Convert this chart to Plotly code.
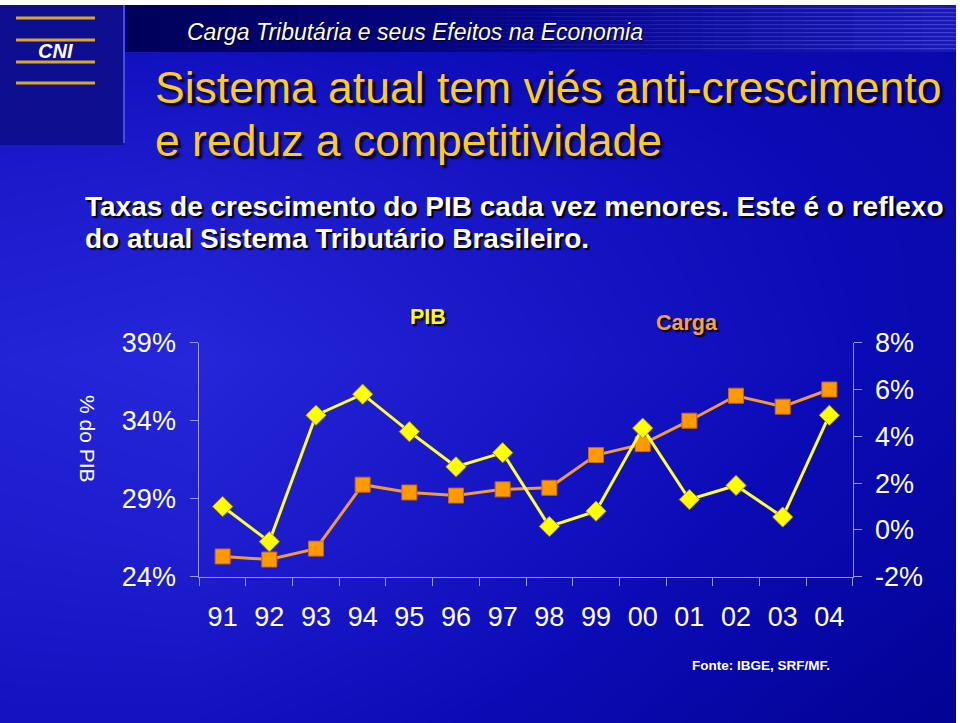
import plotly.graph_objects as go

# ---------------- data ----------------
years = ["91", "92", "93", "94", "95", "96", "97", "98", "99", "00", "01", "02", "03", "04"]
carga = [25.3, 25.1, 25.8, 29.9, 29.4, 29.2, 29.6, 29.7, 31.8, 32.5, 34.0, 35.6, 34.9, 36.0]
pib = [1.0, -0.5, 4.9, 5.8, 4.2, 2.7, 3.3, 0.15, 0.8, 4.35, 1.3, 1.9, 0.55, 4.9]
left_ticks = [24, 29, 34, 39]
right_ticks = [-2, 0, 2, 4, 6, 8]
series_names = ["Carga", "PIB"]

W, H = 960, 723


def px(x):
    return x / W


def py(y):
    return 1 - y / H


# ---------------- slide background (decoration) ----------------
bg_x = [0, 192, 384, 576, 768, 960]
bg_y = [0, 180, 360, 540, 723]
bg_z = [
    [0.50, 0.50, 0.46, 0.42, 0.38, 0.34],
    [0.78, 0.82, 0.74, 0.62, 0.50, 0.40],
    [0.95, 1.00, 0.86, 0.70, 0.55, 0.40],
    [0.82, 0.86, 0.74, 0.58, 0.42, 0.28],
    [0.62, 0.62, 0.52, 0.40, 0.24, 0.10],
]
bg_scale = [[0, "#00008a"], [0.5, "#0c0cb8"], [1, "#2626da"]]

fig = go.Figure()
fig.add_trace(go.Heatmap(x=bg_x, y=bg_y, z=bg_z, colorscale=bg_scale, zmin=0, zmax=1,
                         zsmooth="best", showscale=False, hoverinfo="skip",
                         xaxis="x", yaxis="y"))

# ---------------- chart traces ----------------
fig.add_trace(go.Scatter(
    x=years, y=carga, name=series_names[0], mode="lines+markers",
    line=dict(color="#f09a3c", width=3),
    marker=dict(symbol="square", size=15, color="#ff9900", line=dict(color="#c86a00", width=1)),
    xaxis="x2", yaxis="y2",
))
fig.add_trace(go.Scatter(
    x=years, y=pib, name=series_names[1], mode="lines+markers",
    line=dict(color="#ffff3a", width=3),
    marker=dict(symbol="diamond", size=15.5, color="#ffff00", line=dict(color="#b0a000", width=1)),
    xaxis="x2", yaxis="y3",
))

xdom = [px(199.3), px(852.7)]
ydom = [py(576.7), py(342.7)]
axis_col = "rgba(175,175,235,0.85)"
tick_font = dict(family="Liberation Sans, Arial, sans-serif", size=27, color="white")
n = len(years)
bounds = [i - 0.5 for i in range(n + 1)]
hidden = dict(visible=False, showgrid=False, zeroline=False, automargin=False)

fig.update_layout(
    width=W, height=H,
    margin=dict(l=0, r=0, t=0, b=0, autoexpand=False),
    paper_bgcolor="#1010c0", plot_bgcolor="rgba(0,0,0,0)",
    showlegend=False,
    xaxis=dict(domain=[0, 1], range=[0, W], anchor="y", **hidden),
    yaxis=dict(domain=[0, 1], range=[H, 0], anchor="x", **hidden),
    xaxis2=dict(domain=xdom, anchor="y2", type="category", categoryarray=years,
                range=[-0.5, n - 0.5], tickson="boundaries", ticks="outside", ticklen=8,
                tickcolor=axis_col, showline=True, linecolor=axis_col, linewidth=1,
                showgrid=False, zeroline=False, tickfont=tick_font, ticklabelstandoff=16,
                automargin=False),
    yaxis2=dict(domain=ydom, anchor="x2", range=[left_ticks[0], left_ticks[-1]],
                tickvals=left_ticks, ticktext=[f"{v}%" for v in left_ticks],
                ticks="outside", ticklen=8, tickcolor=axis_col, showline=True,
                linecolor=axis_col, linewidth=1, showgrid=False, zeroline=False,
                tickfont=tick_font, ticklabelstandoff=9, automargin=False),
    yaxis3=dict(domain=ydom, anchor="x2", overlaying="y2", side="right",
                range=[right_ticks[0], right_ticks[-1]],
                tickvals=right_ticks, ticktext=[f"{v}%" for v in right_ticks],
                ticks="outside", ticklen=8, tickcolor=axis_col, showline=True,
                linecolor=axis_col, linewidth=1, showgrid=False, zeroline=False,
                tickfont=tick_font, ticklabelstandoff=8, automargin=False),
    # overlay axes that only draw the inner half of the crossing tick marks
    xaxis3=dict(domain=xdom, anchor="y2", overlaying="x2", range=[-0.5, n - 0.5],
                tickvals=bounds, ticks="inside", ticklen=8, tickcolor=axis_col,
                showticklabels=False, showline=False, showgrid=False, zeroline=False,
                side="bottom", automargin=False),
    yaxis4=dict(domain=ydom, anchor="x2", overlaying="y2", range=[left_ticks[0], left_ticks[-1]],
                tickvals=left_ticks, ticks="inside", ticklen=8, tickcolor=axis_col,
                showticklabels=False, showline=False, showgrid=False, zeroline=False,
                side="left", automargin=False),
    yaxis5=dict(domain=ydom, anchor="x2", overlaying="y2", side="right",
                range=[right_ticks[0], right_ticks[-1]],
                tickvals=right_ticks, ticks="inside", ticklen=8, tickcolor=axis_col,
                showticklabels=False, showline=False, showgrid=False, zeroline=False,
                automargin=False),
)

# ---------------- decorative shapes (header, logo) ----------------
shapes = []


def rect(x0, y0, x1, y1, color, layer="above"):
    shapes.append(dict(type="rect", xref="paper", yref="paper", x0=px(x0), x1=px(x1),
                       y0=py(y1), y1=py(y0), fillcolor=color, line=dict(width=0), layer=layer))


def mix(c1, c2, t):
    return "#%02x%02x%02x" % tuple(int(round(a + (b - a) * t)) for a, b in zip(c1, c2))


# left panel
rect(0, 5, 124, 145, "#0e0e90")
# header band with horizontal gradient
seg = 24
x_start, x_end = 125, 956
for i in range(seg):
    t = i / (seg - 1)
    if t < 0.5:
        col = mix((0, 0, 0x5c), (6, 6, 0x8c), t / 0.5)
    else:
        col = mix((6, 6, 0x8c), (0x18, 0x18, 0xb4), (t - 0.5) / 0.5)
    xa = x_start + (x_end - x_start) * i / seg
    xb = x_start + (x_end - x_start) * (i + 1) / seg + 0.6
    rect(xa, 5, xb, 52, col)
# faint stripes on right part of header
for i in range(10):
    xa = 450 + 50.6 * i
    op = 0.05 + 0.045 * i
    for yy in range(8, 51, 4):
        rect(xa, yy, xa + 51, yy + 1.3, f"rgba(110,110,255,{op:.3f})")
# vertical separator line
rect(123, 5, 125, 143, "#4848f0")
# CNI gold bars
for yy in (18, 40, 62, 83):
    rect(16, yy - 1.5, 95, yy + 1.5, "#d9a82a")
# white frame strips
rect(0, 0, W, 5, "#ffffff")
rect(956, 0, W, H, "#ffffff")
fig.update_layout(shapes=shapes)

# ---------------- texts ----------------
sans = "Liberation Sans, Arial, sans-serif"
ann = []


def A(text, x, y, xanchor="left", yanchor="middle", angle=0, **font):
    ann.append(dict(text=text, x=px(x), y=py(y), xref="paper", yref="paper",
                    xanchor=xanchor, yanchor=yanchor, showarrow=False, font=font,
                    textangle=angle))


A("CNI", 55, 51, xanchor="center", family=sans, size=20, color="white", weight="bold", style="italic")
A("Carga Tributária e seus Efeitos na Economia", 185, 32, family=sans, size=23, color="white",
  style="italic", shadow="1px 1px 1px #000020")
A("Sistema atual tem viés anti-crescimento", 153, 87, family=sans, size=44.5, color="#ffcc1c",
  shadow="3px 3px 2px #000028")
A("e reduz a competitividade", 153, 141, family=sans, size=44.5, color="#ffcc1c",
  shadow="3px 3px 2px #000028")
A("Taxas de crescimento do PIB cada vez menores. Este é o reflexo", 83, 206, family=sans,
  size=28, color="white", weight="bold", shadow="2px 2px 1px #000")
A("do atual Sistema Tributário Brasileiro.", 83, 239, family=sans, size=28, color="white",
  weight="bold", shadow="2px 2px 1px #000")
A(series_names[1], 428, 317, xanchor="center", family=sans, size=21.5, color="#ffff00",
  weight="bold", shadow="2px 2px 1px #000")
A(series_names[0], 687, 323, xanchor="center", family=sans, size=21.5, color="#f8a040",
  weight="bold", shadow="2px 2px 1px #000")
A("% do PIB", 87, 439, xanchor="center", angle=90, family=sans, size=21, color="white")
A("Fonte: IBGE, SRF/MF.", 690, 665, family=sans, size=13.5, color="white", weight="bold")

fig.update_layout(annotations=ann)
fig.write_html("out.html")
